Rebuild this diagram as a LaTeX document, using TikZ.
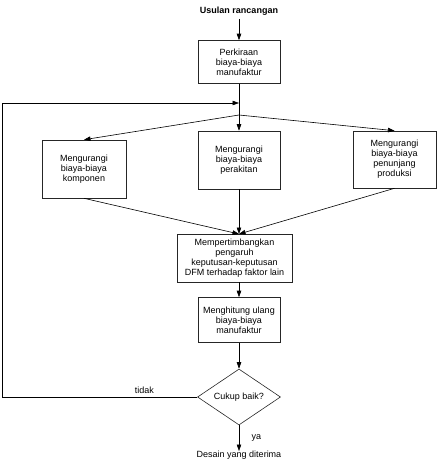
\documentclass[tikz,border=0pt]{standalone}
\usepackage{fontspec}
\setmainfont{Liberation Sans}
\usetikzlibrary{shapes.geometric,arrows.meta}
\begin{document}
\begin{tikzpicture}[x=1pt,y=-1pt,line width=0.6pt,
    txt/.style={font=\fontsize{9}{10}\selectfont},
    box/.style={txt,draw=black!85,align=center,inner sep=0pt},
    arr/.style={-{Triangle[length=6.5pt,width=4.5pt]}}]
  \useasboundingbox (0,0) rectangle (441,461);
  \node[txt,font=\fontsize{9}{10}\selectfont\bfseries] (usul) at (239,11) {Usulan rancangan};
  \node[box,minimum width=82pt,minimum height=43pt] (kira) at (239,62) {Perkiraan\\biaya-biaya\\manufaktur};
  \node[box,minimum width=84pt,minimum height=58pt] (komp) at (84,169) {Mengurangi\\biaya-biaya\\komponen};
  \node[box,minimum width=82pt,minimum height=58pt] (rakit) at (239,160) {Mengurangi\\biaya-biaya\\perakitan};
  \node[box,minimum width=83pt,minimum height=57pt] (tunjang) at (394.5,159.5) {Mengurangi\\biaya-biaya\\penunjang\\produksi};
  \node[box,minimum width=115pt,minimum height=48pt] (timbang) at (234.5,258) {Mempertimbangkan\\pengaruh\\keputusan-keputusan\\DFM terhadap faktor lain};
  \node[box,minimum width=82pt,minimum height=45pt] (hitung) at (239,320) {Menghitung ulang\\biaya-biaya\\manufaktur};
  \node[box,shape=diamond,aspect=1.46,minimum width=83pt,minimum height=56pt] (cukup) at (239,397) {Cukup baik?};
  \node[txt,anchor=north,inner sep=0pt] (desain) at (239,451) {Desain yang diterima};
  \coordinate (cabang) at (239,115);
  \coordinate (gabung) at (239,234);
  \coordinate (masuk) at (239,103);
  \coordinate (kiribawah) at (2,397);
  \coordinate (kiriatas) at (2,103);
  \draw[arr] (usul) -- (kira);
  \draw (kira) -- (cabang);
  \draw[arr] (cabang) -- (komp.north);
  \draw[arr] (cabang) -- (rakit);
  \draw[arr] (cabang) -- (tunjang.north);
  \draw[arr] (komp.south) -- (gabung);
  \draw[arr] (rakit) -- (gabung);
  \draw[arr] (tunjang.south) -- (gabung);
  \draw[arr] (timbang.south -| hitung) -- (hitung);
  \draw[arr] (hitung) -- (cukup);
  \draw[arr] (cukup) -- node[txt,right,xshift=9pt]{ya} (desain);
  \draw[arr] (cukup.west) -- node[txt,above,pos=0.27]{tidak} (kiribawah) -- (kiriatas) -- (masuk);
\end{tikzpicture}
\end{document}
